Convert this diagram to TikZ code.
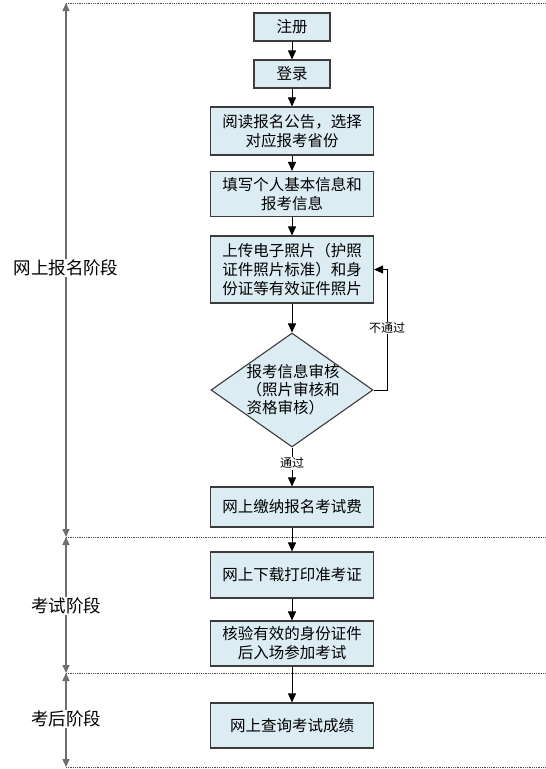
\documentclass[tikz,border=0pt]{standalone}
\usepackage{fontspec}
\setmainfont{Noto Sans CJK SC}
\usetikzlibrary{arrows.meta,shapes.geometric}
\definecolor{boxfill}{RGB}{219,236,243}
\definecolor{boxline}{RGB}{60,60,60}
\definecolor{axisgray}{RGB}{110,110,110}
\tikzset{
 box/.style={draw=boxline,fill=boxfill,line width=1.1pt,minimum width=163pt,inner sep=0pt,align=center,font=\fontsize{15.5}{19}\selectfont},
 sbox/.style={box,minimum width=76pt,minimum height=28pt},
 dia/.style={draw=boxline,fill=boxfill,line width=1.1pt,diamond,minimum width=162pt,minimum height=114pt,inner sep=0pt},
 arr/.style={-{Triangle[length=9pt,width=8pt]},line width=0.9pt,black},
 axisline/.style={{Triangle[length=8pt,width=7pt]}-{Triangle[length=8pt,width=7pt]},line width=1.3pt,draw=axisgray},
 sep/.style={densely dotted,line width=0.8pt,draw=black!70},
 phase/.style={fill=white,inner sep=1pt,font=\fontsize{17.5}{20}\selectfont},
 lab/.style={fill=white,inner sep=1pt,font=\fontsize{12}{14}\selectfont},
}
\begin{document}
\begin{tikzpicture}[x=1pt,y=-1pt]
\useasboundingbox (0,0) rectangle (546,769);
% axis coordinates
\coordinate (a0) at (66,3);
\coordinate (a1) at (66,537);
\coordinate (a2) at (66,673);
\coordinate (a3) at (66,767);
\coordinate (e0) at (546,3);
\coordinate (e1) at (546,537);
\coordinate (e2) at (546,673);
\coordinate (e3) at (546,767);
\draw[sep] (a0) -- (e0);
\draw[sep] (a1) -- (e1);
\draw[sep] (a2) -- (e2);
\draw[sep] (a3) -- (e3);
\draw[axisline] (a0) -- (a1);
\draw[axisline] (a1) -- (a2);
\draw[axisline] (a2) -- (a3);
\node[phase] (p1) at (66,268) {网上报名阶段};
\node[phase] (p2) at (66,606) {考试阶段};
\node[phase] (p3) at (66,719) {考后阶段};
% boxes
\node[sbox] (zc) at (292,27) {注册};
\node[sbox] (dl) at (292,74) {登录};
\node[box,minimum height=48pt] (yd) at (292,131) {阅读报名公告，选择\\对应报考省份};
\node[box,minimum height=45pt] (tx) at (292,194) {填写个人基本信息和\\报考信息};
\node[box,minimum height=67pt] (sc) at (292,269.5) {上传电子照片（护照\\证件照片标准）和身\\份证等有效证件照片};
\node[dia] (sh) at (292,390) {};
\node[align=left,inner sep=0pt,font=\fontsize{15.5}{18}\selectfont] (sht) at (293,390) {报考信息审核\\（照片审核和\\资格审核）};
\node[box,minimum height=40pt] (jn) at (292,507) {网上缴纳报名考试费};
\node[box,minimum height=46pt] (xz) at (292,575) {网上下载打印准考证};
\node[box,minimum height=45pt] (hy) at (292,643.5) {核验有效的身份证件\\后入场参加考试};
\node[box,minimum height=45pt] (cx) at (292,725.5) {网上查询考试成绩};
% connectors
\draw[arr] (zc) -- (dl);
\draw[arr] (dl) -- (yd);
\draw[arr] (yd) -- (tx);
\draw[arr] (tx) -- (sc);
\draw[arr] (sc) -- (sh);
\draw[arr] (sh) -- node[lab,pos=0.4] (tg) {通过} (jn);
\draw[arr] (jn) -- (xz);
\draw[arr] (xz) -- (hy);
\draw[arr] (hy) -- (cx);
\coordinate (fb) at (387,390);
\draw[arr] (sh.east) -- (fb) |- (sc.east);
\node[lab] (bt) at (387,328) {不通过};
\end{tikzpicture}
\end{document}
